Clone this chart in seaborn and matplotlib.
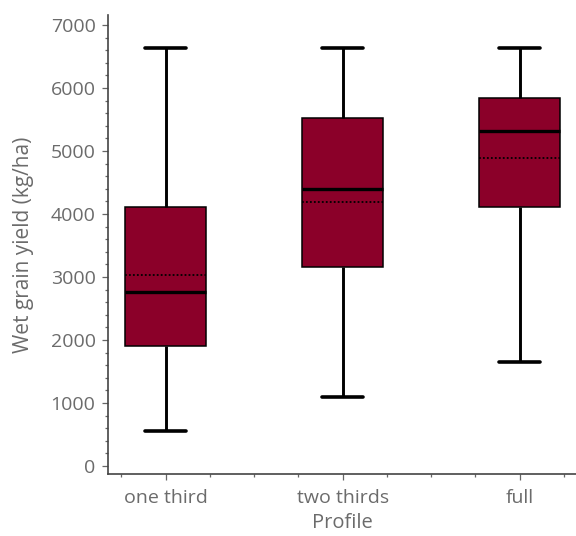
"""Box plot of wet grain yield by profile."""

import matplotlib.pyplot as plt
import matplotlib.ticker as mticker
import seaborn as sns
import pandas as pd

# five-number summaries (min, q1, median, q3, max)
profiles = ['one third', 'two thirds', 'full']
whisker_low = [550, 1100, 1650]
q1 = [1910, 3160, 4115]
median = [2770, 4395, 5315]
q3 = [4105, 5520, 5835]
whisker_high = [6640, 6640, 6640]
means = [3030, 4185, 4895]

box_color = '#8b0029'
grey = '#6b6b6b'

rows = []
for i, p in enumerate(profiles):
    for v in (whisker_low[i], q1[i], median[i], q3[i], whisker_high[i]):
        rows.append({'Profile': p, 'Yield': v})
df = pd.DataFrame(rows)

sns.set_style('ticks')
plt.rcParams['font.family'] = ['Open Sans', 'DejaVu Sans']

fig = plt.figure(figsize=(5.76, 5.36), dpi=100)
ax = fig.add_axes([0.1875, 0.1157, 0.8125, 0.8563])

width = 0.46
sns.boxplot(data=df, x='Profile', y='Yield', order=profiles, ax=ax,
            color=box_color, saturation=1, width=width, whis=(0, 100),
            linecolor='black', linewidth=1.1,
            whiskerprops={'linewidth': 2.1},
            capprops={'linewidth': 2.6},
            medianprops={'linewidth': 2.4, 'color': 'black'})

# dotted mean lines
for i, m in enumerate(means):
    ax.hlines(m, i - width / 2, i + width / 2, colors='black',
              linestyles=(0, (1, 1.2)), linewidth=1.3, zorder=5)

ax.set_ylim(-127, 7160)
ax.set_xlim(-0.326, 2.318)
ax.yaxis.set_major_locator(mticker.MultipleLocator(1000))
ax.yaxis.set_minor_locator(mticker.MultipleLocator(200))
ax.xaxis.set_minor_locator(mticker.MultipleLocator(0.25))

sns.despine(ax=ax)
for side in ('left', 'bottom'):
    ax.spines[side].set_color('#444444')
    ax.spines[side].set_linewidth(1.2)

ax.tick_params(axis='both', which='major', length=4, width=0.9,
               color='#666666', labelcolor=grey, labelsize=14, pad=5)
ax.tick_params(axis='both', which='minor', length=2.5, width=0.9,
               color='#666666')
ax.tick_params(axis='x', which='major', pad=7)

ax.set_xlabel('Profile', fontsize=14.5, color=grey, labelpad=4)
ax.set_ylabel('Wet grain yield (kg/ha)', fontsize=15, color=grey, labelpad=12)

plt.savefig('out.png', dpi=100)
plt.close()
